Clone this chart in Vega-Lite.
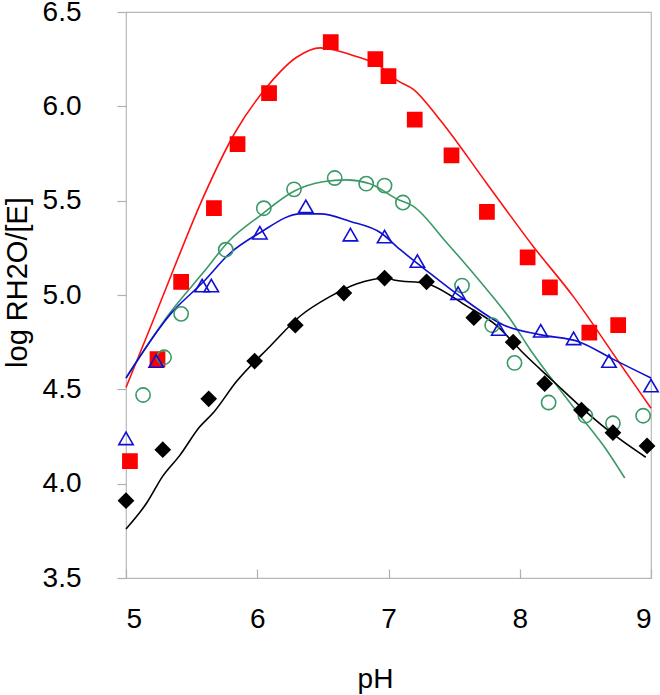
{
  "$schema": "https://vega.github.io/schema/vega-lite/v6.json",
  "width": 525,
  "height": 566,
  "autosize": "none",
  "padding": {"left": 126, "top": 12, "right": 9, "bottom": 117},
  "background": "white",
  "config": {
    "view": {"stroke": "#b8b8b8", "strokeWidth": 1.2},
    "font": "Liberation Sans",
    "axis": {"grid": false, "domain": false, "tickColor": "#b0b0b0", "tickWidth": 1.2,
      "labelFont": "Liberation Sans", "titleFont": "Liberation Sans", "labelColor": "black", "titleColor": "black", "titleFontWeight": "normal"}
  },
  "datasets": {
    "pts": [
      {"s": "A", "pH": 5.03, "v": 4.12}, {"s": "A", "pH": 5.24, "v": 4.66}, {"s": "A", "pH": 5.42, "v": 5.07}, {"s": "A", "pH": 5.67, "v": 5.46},
      {"s": "A", "pH": 5.85, "v": 5.80}, {"s": "A", "pH": 6.09, "v": 6.07}, {"s": "A", "pH": 6.56, "v": 6.34}, {"s": "A", "pH": 6.90, "v": 6.25},
      {"s": "A", "pH": 7.00, "v": 6.16}, {"s": "A", "pH": 7.20, "v": 5.93}, {"s": "A", "pH": 7.48, "v": 5.74}, {"s": "A", "pH": 7.75, "v": 5.44},
      {"s": "A", "pH": 8.06, "v": 5.20}, {"s": "A", "pH": 8.23, "v": 5.04}, {"s": "A", "pH": 8.53, "v": 4.80}, {"s": "A", "pH": 8.75, "v": 4.84},
      {"s": "B", "pH": 5.13, "v": 4.47}, {"s": "B", "pH": 5.29, "v": 4.67}, {"s": "B", "pH": 5.42, "v": 4.90}, {"s": "B", "pH": 5.76, "v": 5.24},
      {"s": "B", "pH": 6.05, "v": 5.46}, {"s": "B", "pH": 6.28, "v": 5.56}, {"s": "B", "pH": 6.59, "v": 5.62}, {"s": "B", "pH": 6.83, "v": 5.59},
      {"s": "B", "pH": 6.97, "v": 5.58}, {"s": "B", "pH": 7.11, "v": 5.49}, {"s": "B", "pH": 7.56, "v": 5.05}, {"s": "B", "pH": 7.79, "v": 4.84},
      {"s": "B", "pH": 7.96, "v": 4.64}, {"s": "B", "pH": 8.22, "v": 4.43}, {"s": "B", "pH": 8.50, "v": 4.36}, {"s": "B", "pH": 8.71, "v": 4.32},
      {"s": "B", "pH": 8.94, "v": 4.36},
      {"s": "C", "pH": 5.00, "v": 4.24}, {"s": "C", "pH": 5.23, "v": 4.65}, {"s": "C", "pH": 5.58, "v": 5.05}, {"s": "C", "pH": 5.65, "v": 5.05},
      {"s": "C", "pH": 6.02, "v": 5.33}, {"s": "C", "pH": 6.37, "v": 5.47}, {"s": "C", "pH": 6.71, "v": 5.32}, {"s": "C", "pH": 6.97, "v": 5.31},
      {"s": "C", "pH": 7.22, "v": 5.18}, {"s": "C", "pH": 7.53, "v": 5.01}, {"s": "C", "pH": 7.84, "v": 4.82}, {"s": "C", "pH": 8.16, "v": 4.81},
      {"s": "C", "pH": 8.41, "v": 4.77}, {"s": "C", "pH": 8.68, "v": 4.65}, {"s": "C", "pH": 9.00, "v": 4.52},
      {"s": "D", "pH": 5.00, "v": 3.91}, {"s": "D", "pH": 5.28, "v": 4.18}, {"s": "D", "pH": 5.63, "v": 4.45}, {"s": "D", "pH": 5.98, "v": 4.65},
      {"s": "D", "pH": 6.29, "v": 4.84}, {"s": "D", "pH": 6.66, "v": 5.01}, {"s": "D", "pH": 6.97, "v": 5.09}, {"s": "D", "pH": 7.29, "v": 5.07},
      {"s": "D", "pH": 7.65, "v": 4.88}, {"s": "D", "pH": 7.95, "v": 4.75}, {"s": "D", "pH": 8.19, "v": 4.53}, {"s": "D", "pH": 8.47, "v": 4.39},
      {"s": "D", "pH": 8.71, "v": 4.27}, {"s": "D", "pH": 8.97, "v": 4.20}
    ],
    "fit": [
      {"s": "A", "pH": 5.00, "v": 4.51}, {"s": "A", "pH": 5.21, "v": 4.87}, {"s": "A", "pH": 5.37, "v": 5.15}, {"s": "A", "pH": 5.59, "v": 5.52},
      {"s": "A", "pH": 5.83, "v": 5.86}, {"s": "A", "pH": 6.07, "v": 6.10}, {"s": "A", "pH": 6.30, "v": 6.26}, {"s": "A", "pH": 6.48, "v": 6.31},
      {"s": "A", "pH": 6.58, "v": 6.30}, {"s": "A", "pH": 6.73, "v": 6.27}, {"s": "A", "pH": 6.94, "v": 6.21}, {"s": "A", "pH": 7.06, "v": 6.14},
      {"s": "A", "pH": 7.19, "v": 6.09}, {"s": "A", "pH": 7.39, "v": 5.93}, {"s": "A", "pH": 7.75, "v": 5.59}, {"s": "A", "pH": 8.10, "v": 5.26},
      {"s": "A", "pH": 8.41, "v": 4.99}, {"s": "A", "pH": 8.76, "v": 4.64}, {"s": "A", "pH": 9.00, "v": 4.40},
      {"s": "B", "pH": 5.00, "v": 4.56}, {"s": "B", "pH": 5.34, "v": 4.91}, {"s": "B", "pH": 5.59, "v": 5.12}, {"s": "B", "pH": 5.79, "v": 5.29},
      {"s": "B", "pH": 6.02, "v": 5.42}, {"s": "B", "pH": 6.28, "v": 5.55}, {"s": "B", "pH": 6.50, "v": 5.60}, {"s": "B", "pH": 6.68, "v": 5.61},
      {"s": "B", "pH": 6.86, "v": 5.59}, {"s": "B", "pH": 7.06, "v": 5.51}, {"s": "B", "pH": 7.19, "v": 5.47}, {"s": "B", "pH": 7.44, "v": 5.28},
      {"s": "B", "pH": 7.70, "v": 5.07}, {"s": "B", "pH": 7.93, "v": 4.87}, {"s": "B", "pH": 8.08, "v": 4.71}, {"s": "B", "pH": 8.26, "v": 4.54},
      {"s": "B", "pH": 8.46, "v": 4.36}, {"s": "B", "pH": 8.66, "v": 4.18}, {"s": "B", "pH": 8.80, "v": 4.03},
      {"s": "C", "pH": 5.00, "v": 4.56}, {"s": "C", "pH": 5.34, "v": 4.90}, {"s": "C", "pH": 5.59, "v": 5.07}, {"s": "C", "pH": 5.79, "v": 5.22},
      {"s": "C", "pH": 6.02, "v": 5.33}, {"s": "C", "pH": 6.33, "v": 5.43}, {"s": "C", "pH": 6.48, "v": 5.43}, {"s": "C", "pH": 6.71, "v": 5.39},
      {"s": "C", "pH": 6.94, "v": 5.33}, {"s": "C", "pH": 7.09, "v": 5.24}, {"s": "C", "pH": 7.27, "v": 5.14}, {"s": "C", "pH": 7.57, "v": 4.98},
      {"s": "C", "pH": 7.88, "v": 4.84}, {"s": "C", "pH": 8.15, "v": 4.79}, {"s": "C", "pH": 8.46, "v": 4.75}, {"s": "C", "pH": 8.71, "v": 4.66},
      {"s": "C", "pH": 9.00, "v": 4.56},
      {"s": "D", "pH": 5.00, "v": 3.76}, {"s": "D", "pH": 5.16, "v": 3.90}, {"s": "D", "pH": 5.28, "v": 4.04}, {"s": "D", "pH": 5.41, "v": 4.15},
      {"s": "D", "pH": 5.56, "v": 4.30}, {"s": "D", "pH": 5.67, "v": 4.38}, {"s": "D", "pH": 5.84, "v": 4.54}, {"s": "D", "pH": 6.10, "v": 4.73},
      {"s": "D", "pH": 6.33, "v": 4.89}, {"s": "D", "pH": 6.55, "v": 4.99}, {"s": "D", "pH": 6.76, "v": 5.06}, {"s": "D", "pH": 6.99, "v": 5.09},
      {"s": "D", "pH": 7.04, "v": 5.08}, {"s": "D", "pH": 7.29, "v": 5.06}, {"s": "D", "pH": 7.60, "v": 4.94}, {"s": "D", "pH": 7.82, "v": 4.84},
      {"s": "D", "pH": 8.03, "v": 4.69}, {"s": "D", "pH": 8.26, "v": 4.54}, {"s": "D", "pH": 8.46, "v": 4.41}, {"s": "D", "pH": 8.66, "v": 4.29},
      {"s": "D", "pH": 8.96, "v": 4.14}
    ]
  },
  "encoding": {
    "x": {"field": "pH", "type": "quantitative", "scale": {"domain": [5, 9], "nice": false, "zero": false},
      "axis": {"title": "pH", "values": [5, 6, 7, 8, 9], "format": "d", "tickSize": -9, "labelPadding": 36, "labelFontSize": 28,
        "titleFontSize": 28, "titlePadding": 32, "titleX": 249}},
    "y": {"field": "v", "type": "quantitative", "scale": {"domain": [3.5, 6.5], "nice": false, "zero": false},
      "axis": {"title": "log RH2O/[E]", "values": [3.5, 4, 4.5, 5, 5.5, 6, 6.5], "format": ".1f", "tickSize": 9, "labelPadding": 36,
        "labelFontSize": 28, "titleFontSize": 29, "titlePadding": 10, "titleY": 270}}
  },
  "layer": [
    {
      "data": {"name": "fit"},
      "mark": {"type": "line", "strokeWidth": 1.6, "interpolate": "monotone"},
      "encoding": {
        "color": {"field": "s", "type": "nominal", "legend": null,
          "scale": {"domain": ["A", "B", "C", "D"], "range": ["#ff1010", "#3a9966", "#1010d0", "#000000"]}},
        "detail": {"field": "s"}
      }
    },
    {
      "data": {"name": "pts"},
      "mark": {"type": "point", "strokeWidth": 1.6, "opacity": 1},
      "encoding": {
        "shape": {"field": "s", "type": "nominal", "legend": null,
          "scale": {"domain": ["A", "B", "C", "D"], "range": ["square", "circle", "triangle-up", "diamond"]}},
        "stroke": {"field": "s", "type": "nominal", "legend": null,
          "scale": {"domain": ["A", "B", "C", "D"], "range": ["#ff0000", "#3a9966", "#1010d0", "#000000"]}},
        "fill": {"field": "s", "type": "nominal", "legend": null,
          "scale": {"domain": ["A", "B", "C", "D"], "range": ["#ff0000", "transparent", "transparent", "#000000"]}},
        "size": {"field": "s", "type": "nominal", "legend": null,
          "scale": {"domain": ["A", "B", "C", "D"], "range": [200, 210, 290, 260]}}
      }
    }
  ]
}
